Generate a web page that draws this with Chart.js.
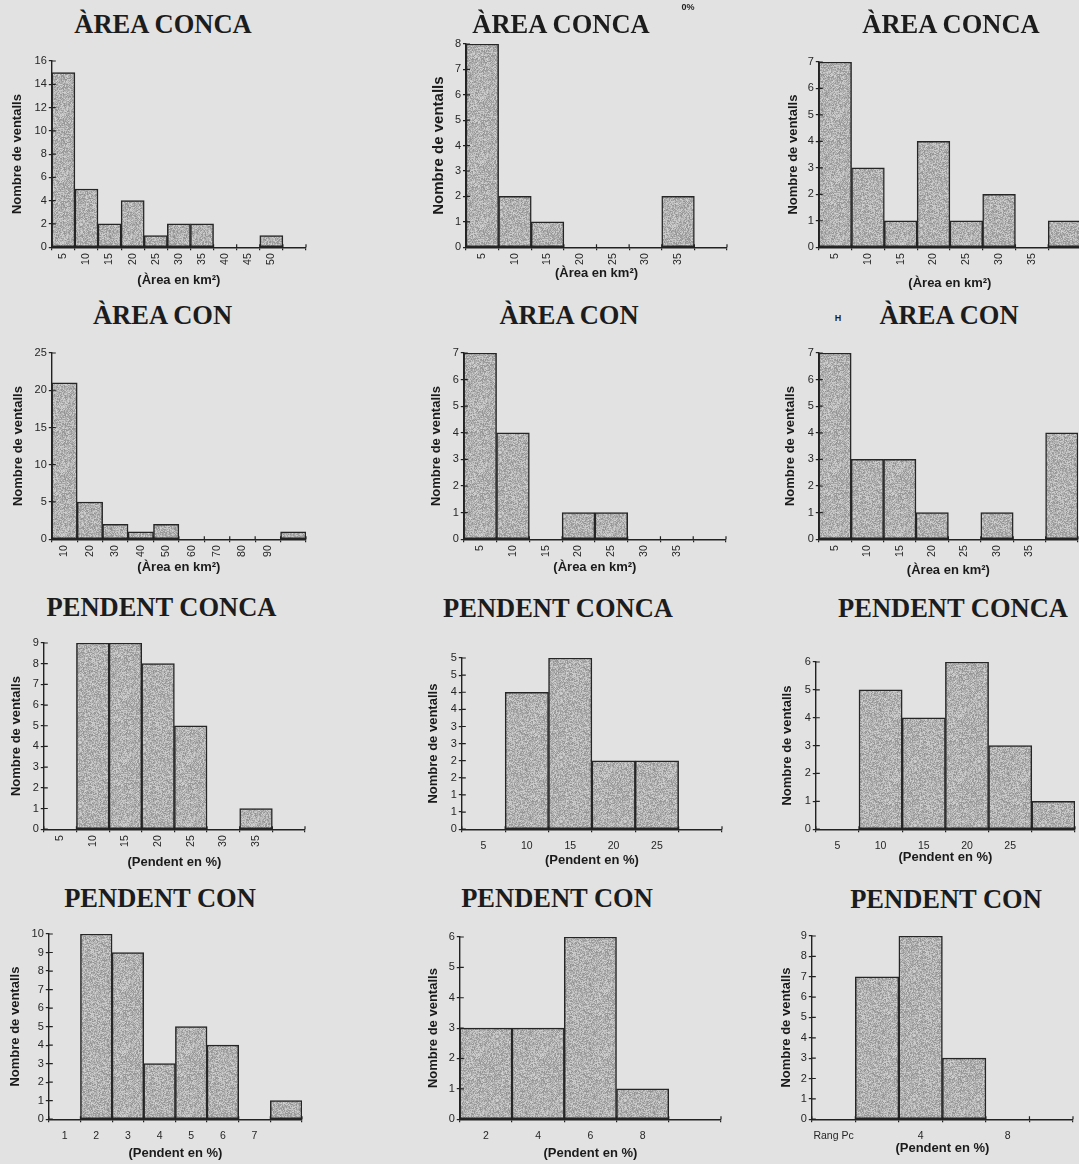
<!DOCTYPE html>
<html>
<head>
<meta charset="utf-8">
<script src="https://cdn.jsdelivr.net/npm/chart.js@4/dist/chart.umd.min.js"></script>
<style>
  html, body { margin: 0; padding: 0; width: 1079px; height: 1164px; overflow: hidden; background: #e2e2e2; }
  canvas { position: absolute; }
  .title { position: absolute; font: bold 26.5px 'Liberation Serif', 'Times New Roman', serif; color: #1c1c1c;
           line-height: 1; white-space: nowrap; transform: translateX(-50%); }
  .note { position: absolute; font: bold 9px 'Liberation Sans', Arial, sans-serif; color: #1e1e1e; line-height: 1;
          white-space: nowrap; transform: translateX(-50%); -webkit-font-smoothing: antialiased; }
</style>
</head>
<body>
<script>
// Number of fans (ventalls) per class — basin area histograms
const areaConca1Labels = ['5', '10', '15', '20', '25', '30', '35', '40', '45', '50', ''];
const areaConca1Counts = [15, 5, 2, 4, 1, 2, 2, 0, 0, 1, 0];
const areaConca2Labels = ['5', '10', '15', '20', '25', '30', '35', ''];
const areaConca2Counts = [8, 2, 1, 0, 0, 0, 2, 0];
const areaConca3Labels = ['5', '10', '15', '20', '25', '30', '35', ''];
const areaConca3Counts = [7, 3, 1, 4, 1, 2, 0, 1];

// Fan (con) area histograms
const areaCon1Labels = ['10', '20', '30', '40', '50', '60', '70', '80', '90', ''];
const areaCon1Counts = [21, 5, 2, 1, 2, 0, 0, 0, 0, 1];
const areaCon2Labels = ['5', '10', '15', '20', '25', '30', '35', ''];
const areaCon2Counts = [7, 4, 0, 1, 1, 0, 0, 0];
const areaCon3Labels = ['5', '10', '15', '20', '25', '30', '35', ''];
const areaCon3Counts = [7, 3, 3, 1, 0, 1, 0, 4];

// Basin slope histograms
const pendentConca1Labels = ['5', '10', '15', '20', '25', '30', '35', ''];
const pendentConca1Counts = [0, 9, 9, 8, 5, 0, 1, 0];
const pendentConca2Labels = ['5', '10', '15', '20', '25', ''];
const pendentConca2Counts = [0, 4, 5, 2, 2, 0];
const pendentConca3Labels = ['5', '10', '15', '20', '25', ''];
const pendentConca3Counts = [0, 5, 4, 6, 3, 1];

// Fan slope histograms
const pendentCon1Labels = ['1', '2', '3', '4', '5', '6', '7', ''];
const pendentCon1Counts = [0, 10, 9, 3, 5, 4, 0, 1];
const pendentCon2Labels = ['2', '4', '6', '8', ''];
const pendentCon2Counts = [3, 3, 6, 1, 0];
const pendentCon3Labels = ['Rang Pc', '', '4', '', '8', ''];
const pendentCon3Counts = [0, 7, 9, 3, 0, 0];

const AREA_AXIS = '(Àrea en km²)';
const SLOPE_AXIS = '(Pendent en %)';
const COUNT_AXIS = 'Nombre de ventalls';

// Panel layout: plot box [left, top, right, bottom] in page pixels, title centre/baseline
const panels = [
  { title: 'ÀREA CONCA', tx: 163, ty: 33, labels: areaConca1Labels, counts: areaConca1Counts, xTitle: AREA_AXIS,
    rotate: true, max: 16, step: 2, box: [52, 60.7, 306, 246.7], yGap: 34, xGap: 33 },
  { title: 'ÀREA CONCA', tx: 561, ty: 33, labels: areaConca2Labels, counts: areaConca2Counts, xTitle: AREA_AXIS,
    rotate: true, max: 8, step: 1, box: [465.7, 44.3, 726.7, 247.3], yGap: 27, xGap: 26, ySize: 15 },
  { title: 'ÀREA CONCA', tx: 951, ty: 33, labels: areaConca3Labels, counts: areaConca3Counts, xTitle: AREA_AXIS,
    rotate: true, max: 7, step: 1, box: [818.3, 61.7, 1080, 247.3], yGap: 25, xGap: 36 },
  { title: 'ÀREA CON', tx: 162.5, ty: 324, labels: areaCon1Labels, counts: areaCon1Counts, xTitle: AREA_AXIS,
    rotate: true, max: 25, step: 5, box: [51.7, 353.3, 306, 539.3], yGap: 33, xGap: 28 },
  { title: 'ÀREA CON', tx: 569, ty: 324, labels: areaCon2Labels, counts: areaCon2Counts, xTitle: AREA_AXIS,
    rotate: true, max: 7, step: 1, box: [464, 352.7, 725.7, 539.3], yGap: 27, xGap: 28 },
  { title: 'ÀREA CON', tx: 949, ty: 324, labels: areaCon3Labels, counts: areaCon3Counts, xTitle: AREA_AXIS,
    rotate: true, max: 7, step: 1, box: [818.3, 352.7, 1077, 539.3], yGap: 28, xGap: 31 },
  { title: 'PENDENT CONCA', tx: 161.5, ty: 616, labels: pendentConca1Labels, counts: pendentConca1Counts, xTitle: SLOPE_AXIS,
    rotate: true, max: 9, step: 1, box: [43.3, 642.7, 304, 829.3], yGap: 27, xGap: 33 },
  { title: 'PENDENT CONCA', tx: 558, ty: 617, labels: pendentConca2Labels, counts: pendentConca2Counts, xTitle: SLOPE_AXIS,
    rotate: false, max: 5, step: 0.5, roundTicks: true, box: [461.7, 658.3, 722, 829.3], yGap: 28, xGap: 31 },
  { title: 'PENDENT CONCA', tx: 953, ty: 617, labels: pendentConca3Labels, counts: pendentConca3Counts, xTitle: SLOPE_AXIS,
    rotate: false, max: 6, step: 1, box: [816, 661.7, 1075, 829.3], yGap: 28, xGap: 28 },
  { title: 'PENDENT CON', tx: 160, ty: 907, labels: pendentCon1Labels, counts: pendentCon1Counts, xTitle: SLOPE_AXIS,
    rotate: false, max: 10, step: 1, box: [48.3, 934, 301.7, 1119.3], yGap: 33, xGap: 34 },
  { title: 'PENDENT CON', tx: 557, ty: 907, labels: pendentCon2Labels, counts: pendentCon2Counts, xTitle: SLOPE_AXIS,
    rotate: false, max: 6, step: 1, box: [460, 937.3, 721, 1119.3], yGap: 26, xGap: 34 },
  { title: 'PENDENT CON', tx: 946, ty: 908, labels: pendentCon3Labels, counts: pendentCon3Counts, xTitle: SLOPE_AXIS,
    rotate: false, max: 9, step: 1, box: [811.7, 936, 1073, 1119.3], yGap: 25, xGap: 29 }
];

// Loose stray marks printed on the sheet
const notes = [
  { text: '0%', x: 688, y: 3 },
  { text: 'H', x: 838, y: 314 }
];

const INK = '#222222';
const SANS = "'Liberation Sans', Arial, sans-serif";
const TITLE_SIZE = 26.5;

// Speckled grey fill for the bars (fixed hash noise, same on every load)
function grainPattern(ctx) {
  const size = 64;
  const c = document.createElement('canvas');
  c.width = c.height = size;
  const g = c.getContext('2d');
  const img = g.createImageData(size, size);
  for (let yy = 0; yy < size; yy++) {
    for (let xx = 0; xx < size; xx++) {
      let h = (xx * 374761393 + yy * 668265263) | 0;
      h = Math.imul(h ^ (h >>> 13), 1274126177);
      h = (h ^ (h >>> 16)) >>> 0;
      const v = 145 + (h % 66);
      const i = (yy * size + xx) * 4;
      img.data[i] = v; img.data[i + 1] = v; img.data[i + 2] = v; img.data[i + 3] = 255;
    }
  }
  g.putImageData(img, 0, 0);
  return ctx.createPattern(c, 'repeat');
}

// Short tick stubs on the inner side of both axes, so ticks cross the axis lines
const innerTicks = {
  id: 'innerTicks',
  afterDraw(chart) {
    const { ctx, chartArea: a, scales: { x, y } } = chart;
    ctx.save();
    ctx.strokeStyle = INK;
    ctx.lineWidth = 1.2;
    ctx.beginPath();
    y.ticks.forEach((t, i) => {
      const py = y.getPixelForTick(i);
      ctx.moveTo(a.left, py); ctx.lineTo(a.left + 4, py);
    });
    for (let i = 0; i <= x.ticks.length; i++) {
      const px = x.getPixelForValue(i - 0.5);
      ctx.moveTo(px, a.bottom); ctx.lineTo(px, a.bottom - 3);
    }
    ctx.stroke();
    ctx.restore();
  }
};

panels.forEach(p => {
  const [left, top, right, bottom] = p.box;
  const ySize = p.ySize || 13;
  const xSize = 13;
  const yW = p.yGap + ySize * 0.6;
  const xH = p.xGap + xSize * 0.6;
  const padTop = 9, padRight = 8;
  const W = Math.round(yW + (right - left) + padRight);
  const H = Math.round(padTop + (bottom - top) + xH);

  const canvas = document.createElement('canvas');
  canvas.width = W; canvas.height = H;
  canvas.style.left = (left - yW) + 'px';
  canvas.style.top = (top - padTop) + 'px';
  canvas.style.width = W + 'px';
  canvas.style.height = H + 'px';
  document.body.appendChild(canvas);

  const t = document.createElement('div');
  t.className = 'title';
  t.textContent = p.title;
  t.style.left = p.tx + 'px';
  t.style.top = (p.ty - TITLE_SIZE * 0.8375) + 'px';
  document.body.appendChild(t);

  const ctx = canvas.getContext('2d');
  new Chart(ctx, {
    type: 'bar',
    data: {
      labels: p.labels,
      datasets: [{
        data: p.counts,
        backgroundColor: grainPattern(ctx),
        borderColor: '#262626',
        borderWidth: 1.5,
        borderSkipped: false,
        barPercentage: 1,
        categoryPercentage: 1
      }]
    },
    options: {
      responsive: false,
      animation: false,
      devicePixelRatio: 1,
      layout: { padding: { top: padTop, right: padRight, left: 0, bottom: 0 } },
      plugins: { legend: { display: false }, tooltip: { enabled: false } },
      scales: {
        x: {
          offset: true,
          grid: { display: true, drawOnChartArea: false, drawTicks: true, tickLength: 3, color: INK, offset: true, lineWidth: 1.2 },
          border: { display: true, color: INK, width: 1.4 },
          ticks: {
            autoSkip: false,
            maxRotation: p.rotate ? 90 : 0,
            minRotation: p.rotate ? 90 : 0,
            padding: p.rotate ? 3 : 8,
            color: '#262626',
            font: { family: SANS, size: 10.5 }
          },
          title: { display: true, text: p.xTitle, color: '#1a1a1a', padding: 0,
                   font: { family: SANS, size: xSize, weight: 'bold' } },
          afterFit(s) { s.height = xH; }
        },
        y: {
          min: 0,
          max: p.max,
          grid: { display: true, drawOnChartArea: false, drawTicks: true, tickLength: 3, color: INK, lineWidth: 1.2 },
          border: { display: true, color: INK, width: 1.4 },
          ticks: {
            stepSize: p.step,
            padding: 2,
            color: '#262626',
            font: { family: SANS, size: 11 },
            callback: v => p.roundTicks ? String(Math.round(v)) : String(v)
          },
          title: { display: true, text: COUNT_AXIS, color: '#1a1a1a', padding: 0,
                   font: { family: SANS, size: ySize, weight: 'bold' } },
          afterFit(s) { s.width = yW; }
        }
      }
    },
    plugins: [innerTicks]
  });
});

notes.forEach(n => {
  const d = document.createElement('div');
  d.className = 'note';
  d.textContent = n.text;
  d.style.left = n.x + 'px';
  d.style.top = n.y + 'px';
  document.body.appendChild(d);
});
</script>
</body>
</html>
